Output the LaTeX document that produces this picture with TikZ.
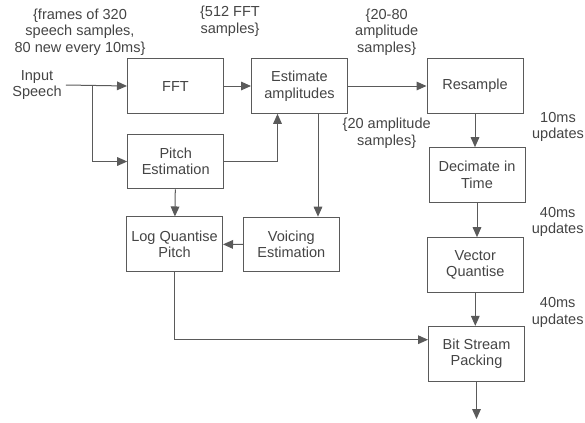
\documentclass[tikz,border=0pt]{standalone}
\usepackage{fontspec}
\setmainfont{Liberation Sans}
\usetikzlibrary{arrows.meta,calc}

\definecolor{linegray}{HTML}{5A5A5A}
\definecolor{textgray}{HTML}{444444}

\tikzset{
  block/.style={draw=linegray, line width=0.75pt, minimum width=72pt, minimum height=41pt,
    align=center, text=textgray, inner sep=2pt},
  note/.style={align=center, text=textgray, inner sep=0pt},
  arr/.style={draw=linegray, line width=0.75pt, -{Triangle[length=7.5pt,width=6.5pt]}},
  wire/.style={draw=linegray, line width=0.75pt}
}

\begin{document}
\begin{tikzpicture}[x=0.75pt,y=-0.75pt,font=\fontsize{10.9}{12.4}\selectfont]

  \useasboundingbox (0,0) rectangle (585,422);

  % blocks
  \node[block] (fft)      at (175.5,86)    {FFT};
  \node[block] (est)      at (299.5,86)    {Estimate\\amplitudes};
  \node[block] (resample) at (475,86)      {Resample};
  \node[block] (pitch)    at (175.7,161.5) {Pitch\\Estimation};
  \node[block] (logq)     at (174.5,244.3) {Log Quantise\\Pitch};
  \node[block] (voice)    at (291.3,244.5) {Voicing\\Estimation};
  \node[block] (decim)    at (477,175)     {Decimate in\\Time};
  \node[block] (vq)       at (475.3,265)   {Vector\\Quantise};
  \node[block] (bsp)      at (476.5,353.7) {Bit Stream\\Packing};

  \node[note] (in) at (37,85) {Input\\Speech};

  % annotations
  \node[note] (frames)  at (80,32)     {\{frames of 320\\speech samples,\\80 new every 10ms\}};
  \node[note] (fftsmp)  at (230,21)    {\{512 FFT\\samples\}};
  \node[note] (ampsmp)  at (386.7,32)  {\{20-80\\amplitude\\samples\}};
  \node[note] (amp20)   at (386.7,133.5) {\{20 amplitude\\samples\}};
  \node[note] (upd10)   at (558,127)   {10ms\\updates};
  \node[note] (upd40a)  at (557.7,222) {40ms\\updates};
  \node[note] (upd40b)  at (557.7,312.5) {40ms\\updates};

  % connectors
  \coordinate (split) at (92.3,86);
  \coordinate (out) at (476.5,419);
  \draw[arr] ([xshift=3pt]in.east) -- (fft.west);
  \draw[arr] (split) |- (pitch.west);
  \draw[arr] (fft) -- (est);
  \draw[arr] (est) -- (resample);
  \draw[arr] (pitch.east) -| ($(est.south)+(-22,0)$);
  \draw[arr] ($(est.south)+(18.5,0)$) coordinate (tap) -- (tap |- voice.north);
  \draw[arr] (pitch) -- (logq);
  \draw[arr] (voice) -- (logq);
  \draw[arr] (logq.south) |- ($(bsp.west)+(0,-14)$);
  \draw[arr] (resample) -- (resample |- decim.north);
  \draw[arr] (decim.south) -- (decim.south |- vq.north);
  \draw[arr] (vq) -- (vq |- bsp.north);
  \draw[arr] (bsp.south) -- (out);

\end{tikzpicture}
\end{document}
